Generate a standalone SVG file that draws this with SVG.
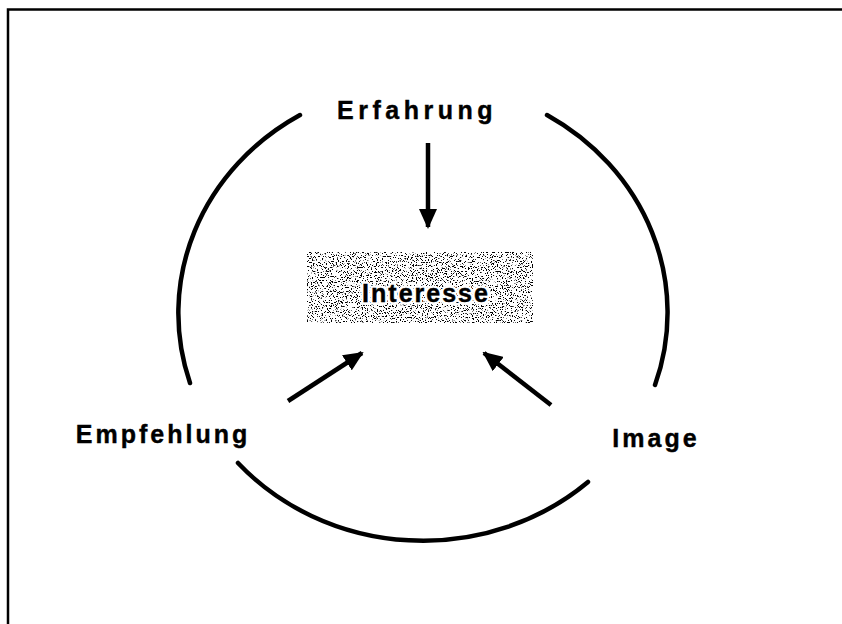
<svg xmlns="http://www.w3.org/2000/svg" width="842" height="624" viewBox="0 0 842 624">
  <style>
    .lbl { font-family: "Liberation Sans", Arial, sans-serif; font-weight: bold; font-size: 25px; letter-spacing: 3px; fill: #000; stroke: #000; stroke-width: 0.4; }
    .arc { fill: none; stroke: #000; stroke-width: 4.5; stroke-linecap: round; }
    .arr { fill: none; stroke: #000; stroke-width: 4.5; marker-end: url(#ah); }
    .frame { fill: none; stroke: #000; stroke-width: 2.5; }
  </style>
  <defs>
    <marker id="ah" markerUnits="userSpaceOnUse" markerWidth="20" markerHeight="18" refX="18" refY="9" orient="auto" viewBox="0 0 20 18">
      <path d="M0,0 L20,9 L0,18 Z" fill="#000"/>
    </marker>
    <filter id="speckle" x="0" y="0" width="100%" height="100%">
      <feTurbulence type="fractalNoise" baseFrequency="0.8" numOctaves="2" seed="7" result="t"/>
      <feColorMatrix in="t" type="matrix" values="0 0 0 0 0  0 0 0 0 0  0 0 0 0 0  -16 0 0 0 6.8" result="s"/>
      <feComposite in="s" in2="SourceGraphic" operator="in"/>
    </filter>
  </defs>

  <path class="frame" d="M8,624 V9.5 H842"/>

  <g id="cycle">
    <path class="arc" d="M300,115 A247 230 0 0 0 190,383"/>
    <path class="arc" d="M547,115 A247 230 0 0 1 655,385"/>
    <path class="arc" d="M238,463 A247 230 0 0 0 588,482"/>
  </g>

  <g id="connectors">
    <line class="arr" x1="428" y1="143" x2="428" y2="227"/>
    <line class="arr" x1="288" y1="401" x2="362" y2="353"/>
    <line class="arr" x1="551" y1="405" x2="484" y2="353"/>
  </g>

  <g id="interesse">
    <rect x="307" y="252" width="226" height="71" fill="#fff"/>
    <rect x="307" y="252" width="226" height="71" fill="#000" filter="url(#speckle)"/>
    <text class="lbl" x="426" y="302" text-anchor="middle" style="stroke:#fff;stroke-width:5;stroke-linejoin:round;letter-spacing:2px">Interesse</text>
    <text class="lbl" x="426" y="302" text-anchor="middle" style="letter-spacing:2px">Interesse</text>
  </g>

  <g id="erfahrung">
    <text class="lbl" x="417" y="119" text-anchor="middle" style="letter-spacing:4.5px">Erfahrung</text>
  </g>
  <g id="empfehlung">
    <text class="lbl" x="163" y="443" text-anchor="middle">Empfehlung</text>
  </g>
  <g id="image">
    <text class="lbl" x="656" y="447" text-anchor="middle">Image</text>
  </g>
</svg>
